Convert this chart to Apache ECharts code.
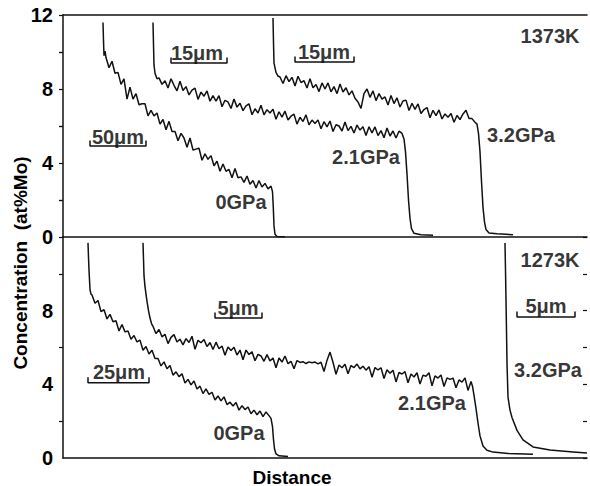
<!DOCTYPE html>
<html>
<head>
<meta charset="utf-8">
<script src="https://cdn.jsdelivr.net/npm/echarts@6/dist/echarts.min.js"></script>
<style>
  html, body { margin: 0; background: #fff; }
  #chart { width: 590px; height: 486px; }
</style>
</head>
<body>
<div id="chart"></div>
<script>
// distance in arbitrary units (0..524 across the plot), concentration in at%Mo
const distStep = 3
const yTicks = [0, 4, 8, 12]

// 1373K, 0GPa
const top0Head = [[40, 11.6], [40.5, 10.6], [41, 9.8], [42, 10.05]]
const top0Start = 43
const top0Body = [9.7, 9.15, 9.5, 8.85, 8.9, 8.25, 8.55, 7.45, 8.1, 7.45, 7.75, 7.15, 7.2, 7.2, 6.55, 6.85, 6.55, 6.7, 6.1, 6.35,
  5.8, 6.25, 5.7, 5.7, 5.2, 5.6, 5.35, 4.85, 5.35, 4.7, 4.75, 4.8, 4.15, 4.5, 4.2, 4.4, 3.85, 4.1, 3.55, 3.95,
  3.55, 3.65, 3.2, 3.7, 3.2, 3.25, 2.95, 3.3, 2.85, 3.05, 2.65, 3.05, 2.7, 2.9, 2.6, 2.75]
const top0Tail = [[209.5, 2.45], [210.3, 1.6], [211, 0.6], [212, 0.15], [214, 0.03], [222, 0]]

// 1373K, 2.1GPa
const top21Head = [[90, 11.6], [90.5, 10.4], [91, 9.3], [92, 8.85], [94, 8.55]]
const top21Start = 96
const top21Body = [8.6, 8.25, 8.45, 8.05, 8.55, 8.2, 7.9, 8.42, 7.92, 8.13, 7.68, 7.94, 8.05, 7.44, 7.83, 7.61, 7.9, 7.34, 7.64, 7.34,
  7.64, 7.04, 7.39, 7.3, 6.95, 7.46, 7.02, 7.23, 6.83, 7.09, 7.2, 6.61, 6.93, 6.7, 7.12, 6.6, 6.88, 6.7, 6.91, 6.36,
  6.77, 6.48, 6.8, 6.32, 6.53, 6.64, 6.1, 6.47, 6.24, 6.6, 6.06, 6.32, 6.13, 6.33, 5.85, 6.23, 5.95, 6.27, 5.7, 6.07,
  6.0, 5.73, 6.22, 5.75, 5.98, 5.62, 6.05, 5.78, 5.96, 5.49, 5.96, 5.63, 5.95, 5.48, 5.75, 5.37, 5.89, 5.46, 5.73, 5.35,
  5.72, 5.6]
const top21Tail = [[341, 5.3], [342.5, 4.6], [344, 3.4], [345.5, 2.0], [347, 1.0], [348.5, 0.45], [351, 0.2], [358, 0.12], [370, 0.1]]

// 1373K, 3.2GPa
const top32Head = [[210, 11.84], [210.5, 10.5], [211, 9.4], [213, 8.9], [215, 8.7]]
const top32Start = 217
const top32Body = [8.65, 8.3, 8.72, 8.4, 8.63, 8.16, 8.69, 8.35, 8.45, 8.05, 8.56, 8.07, 8.24, 7.86, 8.33, 8.0, 8.33, 7.85, 8.13, 7.75,
  8.27, 7.84, 8.07, 7.68, 7.9, 7.5, 7.3, 6.95, 7.75, 8.0, 7.55, 7.9, 7.37, 7.75, 7.45, 7.57, 7.13, 7.65, 7.21, 7.52,
  7.03, 7.35, 7.4, 6.84, 7.23, 6.9, 7.19, 6.68, 6.89, 7.0, 6.45, 6.85, 6.56, 6.87, 6.38, 6.65, 6.47, 6.68, 6.2, 6.57,
  6.35, 6.65, 6.85, 6.4, 6.4, 6.2]
const top32Tail = [[414, 6.1], [415.5, 5.6], [417, 4.6], [418.5, 3.0], [420, 1.6], [421.5, 0.8], [423, 0.4], [426, 0.22], [434, 0.18], [450, 0.12]]

// 1273K, 0GPa
const bot0Head = [[25, 11.68], [25.5, 10.9], [26, 10.2], [27, 9.15], [28, 8.9]]
const bot0Start = 29
const bot0Body = [8.85, 8.4, 8.55, 7.95, 8.05, 7.55, 7.8, 7.4, 7.45, 6.9, 7.25, 6.85, 6.9, 6.45, 6.65, 6.3, 6.4, 5.85, 6.05, 5.65,
  5.85, 5.4, 5.4, 5.0, 5.22, 4.85, 5.02, 4.5, 4.68, 4.42, 4.57, 4.07, 4.27, 3.97, 4.18, 3.75, 3.9, 3.5, 3.75, 3.45,
  3.57, 3.15, 3.37, 3.1, 3.32, 2.9, 3.03, 2.82, 3.01, 2.6, 2.84, 2.63, 2.77, 2.4, 2.6, 2.35, 2.55, 2.25, 2.5, 2.3]
const bot0Tail = [[208, 2.15], [209.5, 1.7], [210.5, 1.0], [211.5, 0.5], [213, 0.22], [216, 0.12], [225, 0.08]]

// 1273K, 2.1GPa
const bot21Head = [[80, 11.68], [80.5, 10.8], [81, 9.9], [82, 9.3], [83, 8.9], [84, 8.5], [85.5, 8.0], [87, 7.6], [88.5, 7.3]]
const bot21Start = 90
const bot21Body = [7.15, 6.75, 6.98, 6.58, 6.72, 6.21, 6.55, 6.7, 6.3, 6.45, 6.14, 6.48, 6.27, 6.61, 5.9, 6.39, 6.26, 6.43, 6.05, 6.27,
  5.89, 6.29, 5.93, 6.08, 5.58, 6.03, 5.84, 6.01, 5.59, 5.86, 5.33, 5.86, 5.62, 5.77, 5.28, 5.63, 5.54, 5.25, 5.61, 5.27,
  5.43, 4.9, 5.43, 5.21, 5.54, 5.12, 5.25, 4.85, 5.29, 5.19, 5.23, 5.13, 5.22, 5.17, 5.21, 5.11, 5.2, 4.7, 5.3, 5.75,
  5.2, 4.55, 5.05, 4.9, 5.09, 4.58, 5.02, 4.91, 5.1, 4.84, 4.98, 4.77, 4.96, 4.39, 4.91, 4.78, 4.9, 4.32, 4.79, 4.6,
  4.77, 4.13, 4.64, 4.56, 4.69, 4.08, 4.56, 4.4, 4.63, 4.02, 4.5, 4.44, 4.63, 3.92, 4.46, 4.34, 4.51, 3.88, 4.35, 4.27,
  4.34, 3.81, 4.24, 4.12, 4.35, 3.67, 4.15]
const bot21Tail = [[409.5, 3.9], [411, 3.4], [413, 2.7], [415, 1.9], [417, 1.2], [420, 0.65], [424, 0.42], [430, 0.32], [445, 0.25], [470, 0.2]]

// 1273K, 3.2GPa (smooth profile)
const bot32 = [[442, 11.68], [442.5, 10.2], [443, 8.6], [443.5, 6.9], [444, 5.15], [445, 3.3], [447, 2.6], [449, 2.2],
  [454, 1.5], [460, 0.98], [470, 0.6], [487, 0.43], [510, 0.33], [524, 0.27]]

// text labels placed in data space [distance, concentration]
const topLabels = [
  { name: '50μm', value: [55, 5.4] }, { name: '15μm', value: [134, 9.95] }, { name: '15μm', value: [261, 10.0] },
  { name: '1373K', value: [487, 10.86] }, { name: '0GPa', value: [178, 1.9] },
  { name: '2.1GPa', value: [303, 4.32] }, { name: '3.2GPa', value: [458, 5.5] }
]
const botLabels = [
  { name: '25μm', value: [56, 4.67] }, { name: '5μm', value: [175, 8.15] }, { name: '5μm', value: [483, 8.26] },
  { name: '1273K', value: [487, 10.76] }, { name: '0GPa', value: [176, 1.36] },
  { name: '2.1GPa', value: [369, 2.99] }, { name: '3.2GPa', value: [485, 4.78] }
]
// scale bars: [from, to, level]
const topBars = [[27, 83, 4.92], [108, 164, 9.4], [232, 291, 9.46]]
const botBars = [[25, 86, 4.08], [152, 199, 7.6], [454, 512, 7.66]]

const font = "'Liberation Sans', Arial, sans-serif"
const ink = '#111'

const trace = (head, start, body, tail) =>
  head.concat(body.map((v, i) => [start + i * distStep, v]), tail)

const lineSeries = (data, g) => ({
  type: 'line', xAxisIndex: g, yAxisIndex: g, data, symbol: 'none', silent: true,
  lineStyle: { color: ink, width: 1.5 }
})
const barSeries = (b, g) => lineSeries([[b[0], b[2] + 0.3], [b[0], b[2]], [b[1], b[2]], [b[1], b[2] + 0.3]], g)
const labelSeries = (data, g) => ({
  type: 'scatter', xAxisIndex: g, yAxisIndex: g, data, symbolSize: 1, silent: true,
  itemStyle: { color: 'transparent' },
  label: { show: true, position: 'inside', formatter: '{b}', color: '#000', fontSize: 20, fontWeight: 'bold', fontFamily: font }
})

const leftAxis = (g, labels) => ({
  gridIndex: g, type: 'value', min: 0, max: 12, interval: 4,
  axisLine: { show: true, lineStyle: { color: ink, width: 1.5 } },
  axisTick: { show: false },
  minorTick: { show: true, splitNumber: 2, length: 4, lineStyle: { color: ink, width: 1.2 } },
  splitLine: { show: false },
  axisLabel: {
    margin: 10, color: '#000', fontSize: 20, fontWeight: 'bold', fontFamily: font,
    formatter: v => (labels.includes(v) ? String(v) : '')
  }
})
const rightAxis = g => ({
  gridIndex: g, type: 'value', position: 'right', min: 0, max: 12, interval: 2,
  axisLine: { show: false },
  axisTick: { show: true, inside: true, length: 4, lineStyle: { color: ink, width: 1.2 } },
  axisLabel: { show: false }, splitLine: { show: false }
})
const distAxis = (g, pos, showLine) => ({
  gridIndex: g, type: 'value', min: 0, max: 524, position: pos,
  axisLine: { show: showLine, onZero: false, lineStyle: { color: ink, width: 1.5 } },
  axisTick: { show: false }, axisLabel: { show: false }, splitLine: { show: false }
})

const chart = echarts.init(document.getElementById('chart'), null, { renderer: 'svg' })
chart.setOption({
  animation: false,
  backgroundColor: '#fff',
  grid: [
    { left: 63, right: 3, top: 15, bottom: 249 },
    { left: 63, right: 3, top: 237, bottom: 28 }
  ],
  xAxis: [distAxis(0, 'bottom', true), distAxis(1, 'bottom', true), distAxis(0, 'top', true)],
  yAxis: [leftAxis(0, yTicks), leftAxis(1, yTicks.slice(0, 3)), rightAxis(0), rightAxis(1)],
  graphic: [
    {
      type: 'text', x: 20, y: 263, rotation: Math.PI / 2,
      style: { text: 'Concentration  (at%Mo)', font: 'bold 19px ' + font, fill: '#000', align: 'center', verticalAlign: 'middle' }
    },
    {
      type: 'text', x: 292, y: 477,
      style: { text: 'Distance', font: 'bold 19px ' + font, fill: '#000', align: 'center', verticalAlign: 'middle' }
    }
  ],
  series: [
    lineSeries(trace(top0Head, top0Start, top0Body, top0Tail), 0),
    lineSeries(trace(top21Head, top21Start, top21Body, top21Tail), 0),
    lineSeries(trace(top32Head, top32Start, top32Body, top32Tail), 0),
    lineSeries(trace(bot0Head, bot0Start, bot0Body, bot0Tail), 1),
    lineSeries(trace(bot21Head, bot21Start, bot21Body, bot21Tail), 1),
    lineSeries(bot32, 1),
    ...topBars.map(b => barSeries(b, 0)),
    ...botBars.map(b => barSeries(b, 1)),
    labelSeries(topLabels, 0),
    labelSeries(botLabels, 1)
  ]
})
</script>
</body>
</html>
